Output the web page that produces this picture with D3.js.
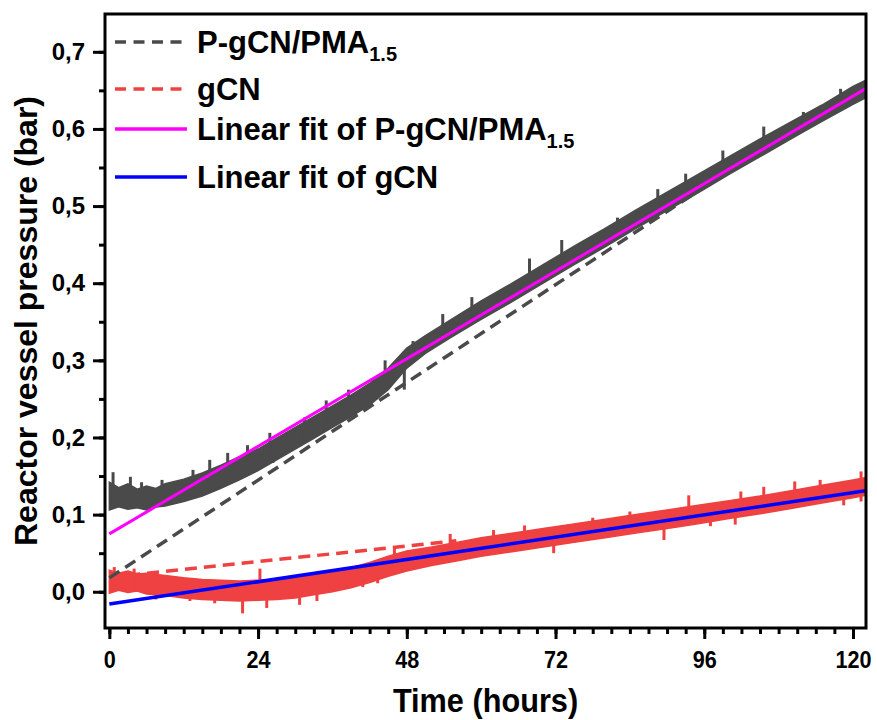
<!DOCTYPE html>
<html><head><meta charset="utf-8">
<script src="https://cdn.jsdelivr.net/npm/d3@7/dist/d3.min.js"></script>
<style>
html,body{margin:0;padding:0;background:#fff;}
text{font-family:"Liberation Sans",Arial,sans-serif;font-weight:bold;fill:#000;}
</style></head>
<body>
<svg id="chart" width="877" height="720"></svg>
<script>
// ---------- data ----------
const xTicks = [0, 24, 48, 72, 96, 120];
const yTicks = [0.0, 0.1, 0.2, 0.3, 0.4, 0.5, 0.6, 0.7];

// P-gCN/PMA1.5 measured band: time, lower, upper
const pTime  = [0, 1.5, 3, 4.5, 6, 7.5, 9, 12, 15, 18, 21, 24, 27, 30, 33, 36, 39, 42, 45, 48, 51, 55, 60, 65, 70, 75, 80, 85, 90, 95, 100, 105, 110, 115, 120, 122];
const pLower = [0.106,0.110,0.107,0.109,0.106,0.110,0.111,0.117,0.124,0.134,0.145,0.157,0.171,0.185,0.199,0.213,0.227,0.242,0.262,0.290,0.309,0.329,0.353,0.376,0.400,0.424,0.447,0.471,0.494,0.517,0.541,0.564,0.587,0.610,0.632,0.640];
const pUpper = [0.142,0.135,0.140,0.133,0.137,0.134,0.140,0.146,0.154,0.164,0.175,0.185,0.199,0.213,0.227,0.241,0.255,0.270,0.290,0.316,0.332,0.352,0.377,0.400,0.424,0.448,0.471,0.495,0.518,0.541,0.564,0.587,0.609,0.631,0.655,0.663];
// isolated excursions of the P-gCN/PMA1.5 trace: time, from, to
const pSpikes = [[0.6,0.115,0.155],[3.4,0.12,0.149],[5.2,0.125,0.142],[8.5,0.12,0.145],[13.5,0.13,0.158],[16.2,0.15,0.171],[19.1,0.16,0.18],[22.3,0.16,0.19],[25.9,0.18,0.206],[26.4,0.167,0.18],[31.5,0.195,0.226],[35,0.22,0.248],[38.6,0.24,0.262],[44.5,0.27,0.30],[47.6,0.262,0.29],[49,0.3,0.325],[53.8,0.335,0.36],[58.5,0.355,0.382],[67.8,0.40,0.432],[73,0.43,0.456],[82,0.46,0.485],[88.5,0.49,0.522],[93,0.52,0.542],[99,0.55,0.572],[105.6,0.58,0.603],[112,0.6,0.622],[118,0.63,0.652]];
// straight dashed section of the P-gCN/PMA1.5 trace
const pGap = [[0, 0.018], [97, 0.530]];

// gCN measured band
const gTime  = [0, 1.5, 3, 4.5, 6, 9, 12, 15, 18, 21, 24, 27, 30, 33, 36, 39, 42, 45, 48, 52, 56, 60, 65, 70, 75, 80, 85, 90, 95, 100, 105, 110, 115, 120, 122];
const gLower = [-0.002,0.002,-0.001,0.001,-0.003,-0.005,-0.008,-0.010,-0.011,-0.012,-0.011,-0.010,-0.008,-0.004,0.000,0.005,0.012,0.020,0.027,0.034,0.040,0.046,0.052,0.058,0.064,0.070,0.076,0.082,0.088,0.095,0.101,0.108,0.115,0.122,0.125];
const gUpper = [0.028,0.024,0.027,0.023,0.024,0.021,0.018,0.016,0.015,0.014,0.015,0.016,0.018,0.022,0.026,0.031,0.038,0.046,0.053,0.058,0.064,0.070,0.076,0.082,0.088,0.094,0.100,0.106,0.112,0.118,0.124,0.131,0.138,0.145,0.148];
const gSpikes = [[0.8,0.0,0.032],[4,0.0,0.03],[7.5,0.01,-0.01],[13,0.0,-0.012],[17,0.0,-0.015],[21.5,-0.005,-0.028],[25.4,-0.005,-0.021],[30.7,0.0,-0.017],[33.5,0.0,-0.012],[40.9,0.015,0.006],[43.3,0.02,0.011],[24.3,0.01,0.03],[46,0.04,0.056],[55,0.06,0.075],[62,0.065,0.08],[67,0.07,0.086],[71.7,0.065,0.05],[78,0.08,0.096],[84,0.09,0.104],[89.5,0.09,0.067],[93.5,0.1,0.125],[97,0.1,0.085],[101,0.1,0.087],[101.9,0.115,0.13],[105.6,0.12,0.136],[110.6,0.125,0.143],[114.7,0.13,0.145],[118.5,0.125,0.112],[121.3,0.117,0.156]];
const gGap = [[0, 0.019], [56, 0.066]];

// linear fits
const fitP = [[0, 0.075], [122, 0.652]];
const fitG = [[0, -0.016], [122, 0.131]];

const legendItems = [
  {label: "P-gCN/PMA", sub: "1.5", color: "#4a4a4a", dash: true},
  {label: "gCN", sub: "", color: "#ef4141", dash: true},
  {label: "Linear fit of P-gCN/PMA", sub: "1.5", color: "#ff00ff", dash: false},
  {label: "Linear fit of gCN", sub: "", color: "#0000ff", dash: false}
];

// ---------- layout ----------
const svg = d3.select("#chart");
const L = 105, R = 866, T = 14, B = 628;
const x = d3.scaleLinear().domain([-0.7, 122.1]).range([L, R]);
const y = d3.scaleLinear().domain([-0.047, 0.749]).range([B, T]);

svg.append("defs").append("clipPath").attr("id", "clip")
  .append("rect").attr("x", L).attr("y", T).attr("width", R - L).attr("height", B - T);
const plot = svg.append("g").attr("clip-path", "url(#clip)");

const area = d3.area().x(d => x(d.t)).y0(d => y(d.lo)).y1(d => y(d.hi));
const line = d3.line().x(d => x(d[0])).y(d => y(d[1]));

function band(time, lo, hi, spikes, gap, color) {
  const pts = time.map((t, i) => ({t, lo: lo[i], hi: hi[i]}));
  plot.append("path").datum(gap).attr("d", line)
    .attr("fill", "none").attr("stroke", color).attr("stroke-width", 3.5)
    .attr("stroke-dasharray", "12,7");
  plot.append("path").datum(pts).attr("d", area)
    .attr("fill", color).attr("stroke", color).attr("stroke-width", 1.5);
  plot.selectAll(null).data(spikes).enter().append("line")
    .attr("x1", d => x(d[0])).attr("x2", d => x(d[0]))
    .attr("y1", d => y(d[1])).attr("y2", d => y(d[2]))
    .attr("stroke", color).attr("stroke-width", 3);
}
band(gTime, gLower, gUpper, gSpikes, gGap, "#ef4141");
band(pTime, pLower, pUpper, pSpikes, pGap, "#4a4a4a");

plot.append("path").datum(fitP).attr("d", line)
  .attr("fill", "none").attr("stroke", "#ff00ff").attr("stroke-width", 3);
plot.append("path").datum(fitG).attr("d", line)
  .attr("fill", "none").attr("stroke", "#0000ff").attr("stroke-width", 3.5);

// ---------- axes ----------
const fmtY = v => d3.format(".1f")(v).replace(".", ",");
const xAxis = svg.append("g").attr("transform", `translate(0,${B})`);
xAxis.call(d3.axisBottom(x).tickValues(d3.range(0, 121, 3)).tickSize(6).tickFormat(""));
xAxis.select(".domain").remove();
xAxis.selectAll("line").attr("stroke", "#000").attr("stroke-width", 3);
const xMaj = svg.append("g").attr("transform", `translate(0,${B})`);
xMaj.call(d3.axisBottom(x).tickValues(xTicks).tickSize(11).tickPadding(12).tickFormat(d3.format("d")));
xMaj.select(".domain").remove();
xMaj.selectAll("line").attr("stroke", "#000").attr("stroke-width", 3);
xMaj.selectAll("text").attr("font-size", 24).attr("font-family", "Liberation Sans, Arial, sans-serif")
  .attr("font-weight", "bold").attr("fill", "#000")
  .attr("transform", "scale(0.9,1)");

const yAxis = svg.append("g").attr("transform", `translate(${L},0)`);
yAxis.call(d3.axisLeft(y).tickValues(d3.range(0, 0.76, 0.05).filter(v => v < 0.745)).tickSize(6).tickFormat(""));
yAxis.select(".domain").remove();
yAxis.selectAll("line").attr("stroke", "#000").attr("stroke-width", 3);
const yMaj = svg.append("g").attr("transform", `translate(${L},0)`);
yMaj.call(d3.axisLeft(y).tickValues(yTicks).tickSize(12).tickPadding(8).tickFormat(fmtY));
yMaj.select(".domain").remove();
yMaj.selectAll("line").attr("stroke", "#000").attr("stroke-width", 3);
yMaj.selectAll("text").attr("font-size", 24).attr("font-family", "Liberation Sans, Arial, sans-serif")
  .attr("font-weight", "bold").attr("fill", "#000");

// frame
svg.append("rect").attr("x", L).attr("y", T).attr("width", R - L).attr("height", B - T)
  .attr("fill", "none").attr("stroke", "#000").attr("stroke-width", 3);

// titles
svg.append("text").attr("transform", `translate(${(L + R) / 2},712) scale(0.93,1)`)
  .attr("text-anchor", "middle").attr("font-size", 33).text("Time (hours)");
svg.append("text").attr("transform", `translate(37,${(T + B) / 2}) rotate(-90)`)
  .attr("text-anchor", "middle").attr("font-size", 32).text("Reactor vessel pressure (bar)");

// legend
const rowY = [42, 89, 129, 177];
const lg = svg.append("g");
legendItems.forEach((d, i) => {
  const yy = rowY[i];
  lg.append("line").attr("x1", 115).attr("x2", 187).attr("y1", yy).attr("y2", yy)
    .attr("stroke", d.color).attr("stroke-width", 3.5)
    .attr("stroke-dasharray", d.dash ? "11,7.5" : null);
  const t = lg.append("text").attr("x", 197).attr("y", yy + 11).attr("font-size", 31).text(d.label);
  if (d.sub) t.append("tspan").attr("font-size", 20).attr("dy", 8).text(d.sub);
});
</script>
</body></html>
